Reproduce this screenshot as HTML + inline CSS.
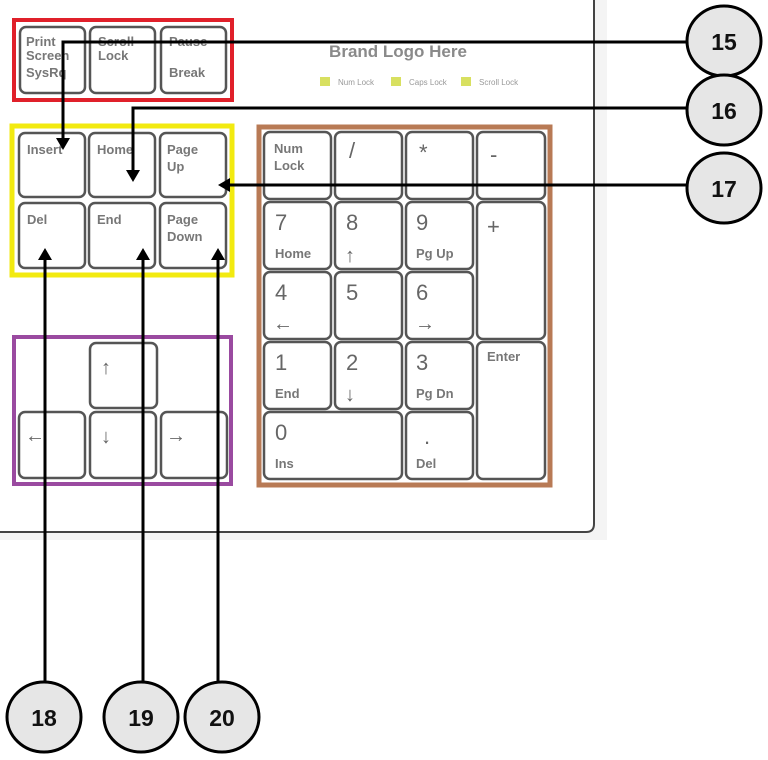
<!DOCTYPE html>
<html><head><meta charset="utf-8"><style>
html,body{margin:0;padding:0;background:#fff;}
svg{display:block;}
text{font-family:"Liberation Sans",sans-serif;}
.k{fill:#fff;stroke:#555;stroke-width:2.5;}
.t{fill:#777;font-size:13px;font-weight:bold;}
.a{fill:#666;font-size:20px;font-weight:bold;}
.n{fill:#666;font-size:22px;}
.c{fill:#e6e6e6;stroke:#000;stroke-width:3;}
.cn{fill:#111;font-size:23px;font-weight:bold;text-anchor:middle;}
.l{stroke:#000;stroke-width:3;fill:none;}
</style></head><body>
<svg width="768" height="760" viewBox="0 0 768 760" xmlns="http://www.w3.org/2000/svg">
<rect x="0" y="0" width="607" height="540" fill="#f4f4f4"/>
<path d="M0 0 H594 V524 Q594 532 586 532 H0 Z" fill="#fff"/>
<path d="M594 0 V524 Q594 532 586 532 H0" fill="none" stroke="#444" stroke-width="2"/>

<rect x="14" y="20" width="218" height="80" fill="#fff" stroke="#e0202a" stroke-width="4"/>
<rect class="k" x="20" y="27" width="65" height="66" rx="6"/>
<rect class="k" x="90" y="27" width="65" height="66" rx="6"/>
<rect class="k" x="161" y="27" width="65" height="66" rx="6"/>
<text class="t" x="26" y="46">Print</text><text class="t" x="26" y="60">Screen</text><text class="t" x="26" y="77">SysRq</text>
<text class="t" x="98" y="46">Scroll</text><text class="t" x="98" y="60">Lock</text>
<text class="t" x="169" y="46">Pause</text><text class="t" x="169" y="77">Break</text>

<text x="398" y="57" text-anchor="middle" style="fill:#8a8a8a;font-size:17px;font-weight:bold">Brand Logo Here</text>
<rect x="320" y="77" width="10" height="9" fill="#d8e060"/><text x="338" y="85" style="fill:#999;font-size:8px">Num Lock</text>
<rect x="391" y="77" width="10" height="9" fill="#d8e060"/><text x="409" y="85" style="fill:#999;font-size:8px">Caps Lock</text>
<rect x="461" y="77" width="10" height="9" fill="#d8e060"/><text x="479" y="85" style="fill:#999;font-size:8px">Scroll Lock</text>

<rect x="12" y="126" width="220" height="149" fill="#fff" stroke="#f2ea10" stroke-width="5"/>
<rect class="k" x="19" y="133" width="66" height="64" rx="6"/>
<rect class="k" x="89" y="133" width="66" height="64" rx="6"/>
<rect class="k" x="160" y="133" width="66" height="64" rx="6"/>
<rect class="k" x="19" y="203" width="66" height="65" rx="6"/>
<rect class="k" x="89" y="203" width="66" height="65" rx="6"/>
<rect class="k" x="160" y="203" width="66" height="65" rx="6"/>
<text class="t" x="27" y="154">Insert</text><text class="t" x="97" y="154">Home</text>
<text class="t" x="167" y="154">Page</text><text class="t" x="167" y="171">Up</text>
<text class="t" x="27" y="224">Del</text><text class="t" x="97" y="224">End</text>
<text class="t" x="167" y="224">Page</text><text class="t" x="167" y="241">Down</text>

<rect x="14" y="337" width="217" height="147" fill="#fff" stroke="#9a4aa0" stroke-width="4"/>
<rect class="k" x="90" y="343" width="67" height="65" rx="6"/>
<rect class="k" x="19" y="412" width="66" height="66" rx="6"/>
<rect class="k" x="90" y="412" width="66" height="66" rx="6"/>
<rect class="k" x="161" y="412" width="66" height="66" rx="6"/>
<text class="a" x="101" y="374">↑</text>
<text class="a" x="25" y="442">←</text>
<text class="a" x="101" y="443">↓</text>
<text class="a" x="166" y="442">→</text>

<rect x="259" y="127" width="291" height="358" fill="#fff" stroke="#b87a55" stroke-width="5"/>
<g>
<rect class="k" x="264" y="132" width="67" height="67" rx="6"/>
<rect class="k" x="335" y="132" width="67" height="67" rx="6"/>
<rect class="k" x="406" y="132" width="67" height="67" rx="6"/>
<rect class="k" x="477" y="132" width="68" height="67" rx="6"/>
<rect class="k" x="264" y="202" width="67" height="67" rx="6"/>
<rect class="k" x="335" y="202" width="67" height="67" rx="6"/>
<rect class="k" x="406" y="202" width="67" height="67" rx="6"/>
<rect class="k" x="477" y="202" width="68" height="137" rx="6"/>
<rect class="k" x="264" y="272" width="67" height="67" rx="6"/>
<rect class="k" x="335" y="272" width="67" height="67" rx="6"/>
<rect class="k" x="406" y="272" width="67" height="67" rx="6"/>
<rect class="k" x="264" y="342" width="67" height="67" rx="6"/>
<rect class="k" x="335" y="342" width="67" height="67" rx="6"/>
<rect class="k" x="406" y="342" width="67" height="67" rx="6"/>
<rect class="k" x="477" y="342" width="68" height="137" rx="6"/>
<rect class="k" x="264" y="412" width="138" height="67" rx="6"/>
<rect class="k" x="406" y="412" width="67" height="67" rx="6"/>
</g>
<text class="t" x="274" y="153">Num</text><text class="t" x="274" y="170">Lock</text>
<text class="n" x="349" y="158">/</text><text class="n" x="419" y="160">*</text><text class="n" x="490" y="162">-</text>
<text class="n" x="275" y="230">7</text><text class="t" x="275" y="258">Home</text>
<text class="n" x="346" y="230">8</text><text class="a" x="345" y="262">↑</text>
<text class="n" x="416" y="230">9</text><text class="t" x="416" y="258">Pg Up</text>
<text class="n" x="487" y="234">+</text>
<text class="n" x="275" y="300">4</text><text class="a" x="273" y="330">←</text>
<text class="n" x="346" y="300">5</text>
<text class="n" x="416" y="300">6</text><text class="a" x="415" y="330">→</text>
<text class="n" x="275" y="370">1</text><text class="t" x="275" y="398">End</text>
<text class="n" x="346" y="370">2</text><text class="a" x="345" y="401">↓</text>
<text class="n" x="416" y="370">3</text><text class="t" x="416" y="398">Pg Dn</text>
<text class="t" x="487" y="361">Enter</text>
<text class="n" x="275" y="440">0</text><text class="t" x="275" y="468">Ins</text>
<text class="n" x="424" y="444">.</text><text class="t" x="416" y="468">Del</text>

<path class="l" d="M688 42 H63 V140"/><path d="M56 138 L70 138 L63 150 Z" fill="#000"/>
<path class="l" d="M688 108 H133 V172"/><path d="M126 170 L140 170 L133 182 Z" fill="#000"/>
<path class="l" d="M688 185 H228"/><path d="M230 178 L230 192 L218 185 Z" fill="#000"/>
<path class="l" d="M45 683 V258"/><path d="M38 260 L52 260 L45 248 Z" fill="#000"/>
<path class="l" d="M143 683 V258"/><path d="M136 260 L150 260 L143 248 Z" fill="#000"/>
<path class="l" d="M218 683 V258"/><path d="M211 260 L225 260 L218 248 Z" fill="#000"/>

<ellipse class="c" cx="724" cy="41" rx="37" ry="35"/><text class="cn" x="724" y="50">15</text>
<ellipse class="c" cx="724" cy="110" rx="37" ry="35"/><text class="cn" x="724" y="119">16</text>
<ellipse class="c" cx="724" cy="188" rx="37" ry="35"/><text class="cn" x="724" y="197">17</text>
<ellipse class="c" cx="44" cy="717" rx="37" ry="35"/><text class="cn" x="44" y="726">18</text>
<ellipse class="c" cx="141" cy="717" rx="37" ry="35"/><text class="cn" x="141" y="726">19</text>
<ellipse class="c" cx="222" cy="717" rx="37" ry="35"/><text class="cn" x="222" y="726">20</text>
</svg>
</body></html>
